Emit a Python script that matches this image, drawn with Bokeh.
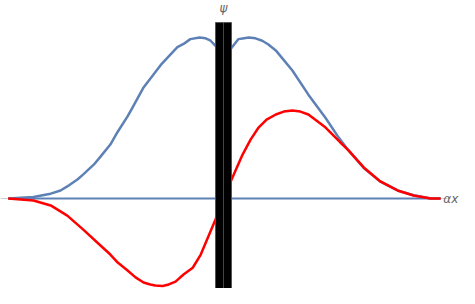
from bokeh.plotting import figure
from bokeh.embed import file_html
from bokeh.resources import INLINE
from bokeh.core.properties import value

# ---- data ----
blue_x = [-3.5, -3.09, -2.81, -2.65, -2.54, -2.37, -2.28, -2.11, -2.0, -1.84, -1.72, -1.56, -1.48, -1.30,
          -1.02, -0.75, -0.65, -0.54, -0.39, -0.29, -0.21, -0.11, 0.0, 0.11, 0.24, 0.31, 0.41, 0.52,
          0.63, 0.73, 0.85, 1.12, 1.38, 1.66, 1.87, 2.02, 2.28, 2.55, 2.83, 3.09, 3.37, 3.53]
blue_y = [0.0, 0.01, 0.03, 0.05, 0.075, 0.12, 0.15, 0.21, 0.26, 0.335, 0.415, 0.51, 0.565, 0.69,
          0.83, 0.94, 0.96, 0.99, 1.0, 0.995, 0.98, 0.94, 0.89, 0.925, 0.99, 0.994, 1.0, 0.995,
          0.98, 0.957, 0.92, 0.795, 0.645, 0.50, 0.38, 0.305, 0.19, 0.105, 0.05, 0.02, 0.0, 0.0]

red_x = [-3.5, -3.09, -2.81, -2.54, -2.28, -2.0, -1.84, -1.72, -1.56, -1.43, -1.30, -1.19, -1.11,
         -0.99, -0.89, -0.78, -0.65, -0.50, -0.37, -0.13, 0.0, 0.11, 0.31, 0.44, 0.57, 0.70, 0.85,
         0.98, 1.12, 1.25, 1.38, 1.51, 1.66, 1.90, 2.02, 2.28, 2.55, 2.83, 3.09, 3.37, 3.53]
red_y = [0.0, -0.012, -0.043, -0.106, -0.193, -0.292, -0.348, -0.398, -0.447, -0.49, -0.522, -0.534,
         -0.540, -0.543, -0.534, -0.516, -0.472, -0.43, -0.348, -0.130, 0.0, 0.099, 0.273, 0.366,
         0.441, 0.49, 0.522, 0.54, 0.547, 0.54, 0.522, 0.484, 0.441, 0.348, 0.304, 0.193, 0.106,
         0.05, 0.019, 0.0, 0.0]

zero_x = [-3.5, 3.53]
zero_y = [0.0, 0.0]

barrier_left = [-0.13]
barrier_right = [0.13]
barrier_bottom = [-0.578]
barrier_top = [1.093]

x_label = "αx"
y_label = "ψ"

# ---- figure ----
X0, X1 = -3.626, 3.837
Y0, Y1 = -0.559, 1.230
p = figure(width=459, height=288, x_range=(X0, X1), y_range=(Y0, Y1),
           output_backend="svg", toolbar_location=None, min_border=0,
           x_axis_location=None, y_axis_location=None)
p.grid.visible = False
p.outline_line_color = None
p.background_fill_color = "white"

BLUE = "#5E81B5"
RED = "#FF0000"
AX = "#999999"

# horizontal axis beneath the curves
p.line([X0, 3.64], [0, 0], line_color=AX, line_alpha=0.5, line_width=1)

p.line(zero_x, zero_y, line_color=BLUE, line_width=2.2)
p.line(blue_x, blue_y, line_color=BLUE, line_width=2.5, line_join="round")
p.line(red_x, red_y, line_color=RED, line_width=2.5, line_join="round")

p.quad(left=barrier_left, right=barrier_right, bottom=barrier_bottom, top=barrier_top,
       fill_color="black", line_color="#555555", line_width=1)

# vertical axis on top of the barrier
p.line([0, 0], [Y0, barrier_top[0]], line_color=AX, line_alpha=0.45, line_width=1)

p.text(x=[X1 - 0.02], y=[0.0], text=[x_label], text_font=value("DejaVu Sans"),
       text_font_style="italic", text_font_size="12px", text_color="#666666",
       text_align="right", text_baseline="middle")
p.text(x=[0.0], y=[Y1], text=[y_label], text_font=value("DejaVu Sans"),
       text_font_style="italic", text_font_size="12px", text_color="#666666",
       text_align="center", text_baseline="top")

open("out.html", "w").write(file_html(p, INLINE))
